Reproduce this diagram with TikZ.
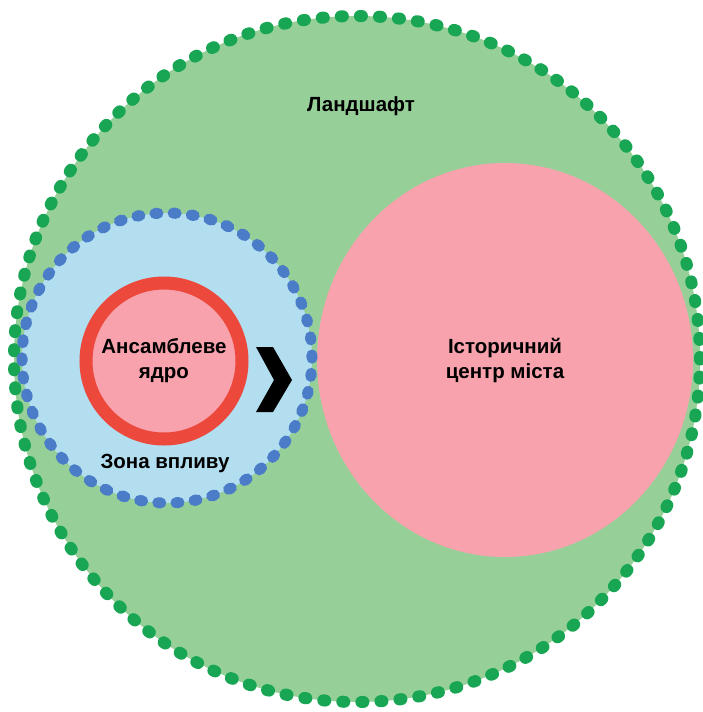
\documentclass[tikz,border=0pt]{standalone}
\usepackage{fontspec}
\setmainfont{Liberation Sans}
\usepackage{tikz}
\usetikzlibrary{shapes.geometric, positioning}
\usepackage{xcolor}
\definecolor{landfill}{RGB}{150,208,152}
\definecolor{landdot}{RGB}{24,166,84}
\definecolor{zonefill}{RGB}{178,222,240}
\definecolor{zonedot}{RGB}{74,124,200}
\definecolor{corefill}{RGB}{247,162,172}
\definecolor{coreline}{RGB}{236,72,60}
\tikzstyle{landscape} = [circle, minimum size=686pt, inner sep=0pt, fill=landfill,
                          draw=landdot, line width=12pt, line cap=round, dash pattern=on 2pt off 17.07pt]
\tikzstyle{zone}      = [circle, minimum size=290pt, inner sep=0pt, fill=zonefill,
                          draw=zonedot, line width=11pt, line cap=round, dash pattern=on 3pt off 15.22pt]
\tikzstyle{core}      = [circle, minimum size=156pt, inner sep=0pt, fill=corefill,
                          draw=coreline, line width=13pt, align=center, font=\labelfont]
\tikzstyle{centre}    = [ellipse, minimum width=376pt, minimum height=394pt, inner sep=0pt,
                          fill=corefill, align=center, font=\labelfont]
\tikzstyle{label}     = [align=center, font=\labelfont]
\newcommand{\labelfont}{\fontsize{20.5}{25}\selectfont\bfseries}

\begin{document}
\begin{tikzpicture}[x=1pt, y=-1pt]
  \useasboundingbox (0,0) rectangle (702,712);
  \node (land)   [landscape] at (357,359) {};
  \node (centre) [centre]    at (505,360) {Історичний\\центр міста};
  \node (zone)   [zone]      at (167,358) {};
  \node (core)   [core]      at (164,361) {Ансамблеве\\ядро};

  \node (landlabel) [label] at (361,106) {Ландшафт};
  \node (zonelabel) [label] at (165,463) {Зона впливу};

  % chevron between zone and centre
  \fill[black] (256,347) -- (273,347) -- (292,380) -- (273,412) -- (256,412) -- (274,380) -- cycle;
\end{tikzpicture}
\end{document}
